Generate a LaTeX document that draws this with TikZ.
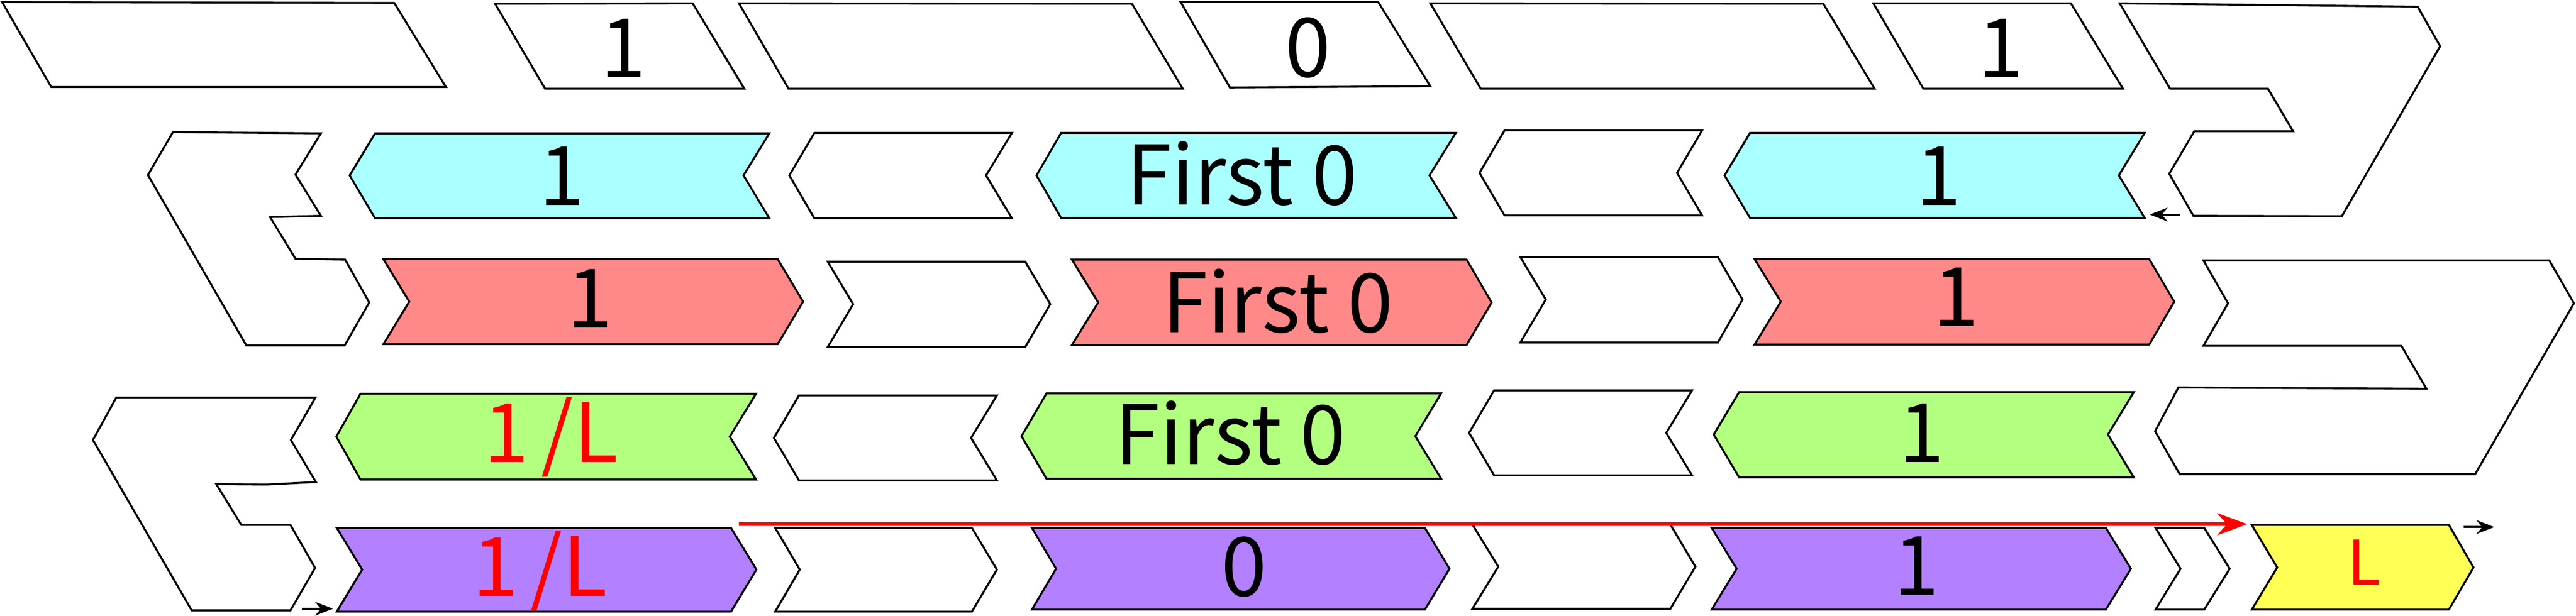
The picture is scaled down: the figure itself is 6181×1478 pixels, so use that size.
\documentclass[tikz,border=0pt]{standalone}
\usepackage{fontspec}
\setmainfont{Noto Sans CJK JP}
\usetikzlibrary{arrows.meta}
\definecolor{cyanc}{HTML}{AAFFFF}
\definecolor{redc}{HTML}{FF8888}
\definecolor{greenc}{HTML}{B3FF80}
\definecolor{purplec}{HTML}{B380FF}
\definecolor{yellowc}{HTML}{FFFF55}
\definecolor{textred}{HTML}{FF0000}
\begin{document}
\begin{tikzpicture}[x=0.01cm,y=-0.01cm,
  shp/.style={draw=black,line width=1.35pt,line join=miter},
  whitebox/.style={shp,fill=white},
  cyanbox/.style={shp,fill=cyanc},
  redbox/.style={shp,fill=redc},
  greenbox/.style={shp,fill=greenc},
  purplebox/.style={shp,fill=purplec},
  yellowbox/.style={shp,fill=yellowc},
  lbl/.style={inner sep=0pt,anchor=base,font=\fontsize{56}{60}\selectfont},
  redlbl/.style={lbl,text=textred},
  smalllbl/.style={inner sep=0pt,anchor=base,text=textred,font=\fontsize{42}{45}\selectfont},
  smallarrow/.style={-{Stealth[length=0.43cm,width=0.33cm]},line width=1.4pt,draw=black},
  bigarrow/.style={-{Stealth[length=0.72cm,width=0.53cm]},line width=2.55pt,draw=textred}]
\useasboundingbox (0,0) rectangle (6181,1478);
\fill[white] (0,0) rectangle (6181,1478);

% ---- row 1 : tape cells (parallelograms) ----
\draw[whitebox] (5,5) -- (946,7) -- (1070,209) -- (123,209) -- cycle;
\draw[whitebox] (1188,9) -- (1662,8) -- (1786,213) -- (1308,213) -- cycle;
\draw[whitebox] (1773,8) -- (2716,9) -- (2838,213) -- (1892,213) -- cycle;
\draw[whitebox] (2833,5) -- (3307,5) -- (3432,207) -- (2951,210) -- cycle;
\draw[whitebox] (3432,8) -- (4375,9) -- (4498,213) -- (3553,213) -- cycle;
\draw[whitebox] (4495,8) -- (4969,8) -- (5094,213) -- (4615,213) -- cycle;
\draw[whitebox] (5086,8) -- (5801,16) -- (5855,111) -- (5619,519) -- (5263,518) -- (5205,417) -- (5265,315) -- (5502,315) -- (5442,213) -- (5207,213) -- cycle;

% ---- row 2 : cyan, pointing left ----
\draw[whitebox] (415,317) -- (770,320) -- (709,419) -- (770,518) -- (648,521) -- (709,621) -- (828,623) -- (886,726) -- (827,829) -- (591,829) -- (355,420) -- cycle;
\draw[cyanbox] (900,320) -- (1846,320) -- (1784,421) -- (1846,524) -- (900,524) -- (839,421) -- cycle;
\draw[whitebox] (1954,319) -- (2428,319) -- (2366,421) -- (2428,524) -- (1954,524) -- (1894,421) -- cycle;
\draw[cyanbox] (2546,319) -- (3493,319) -- (3430,421) -- (3493,523) -- (2546,523) -- (2487,421) -- cycle;
\draw[whitebox] (3610,313) -- (4084,313) -- (4024,415) -- (4084,517) -- (3610,517) -- (3550,415) -- cycle;
\draw[cyanbox] (4199,319) -- (5146,319) -- (5084,421) -- (5146,523) -- (4199,523) -- (4138,421) -- cycle;

% ---- row 3 : red, pointing right ----
\draw[redbox] (920,622) -- (1866,622) -- (1927,724) -- (1866,826) -- (920,826) -- (982,724) -- cycle;
\draw[whitebox] (1986,628) -- (2460,628) -- (2520,730) -- (2460,833) -- (1986,833) -- (2047,730) -- cycle;
\draw[redbox] (2572,623) -- (3519,623) -- (3579,726) -- (3519,828) -- (2572,828) -- (2635,726) -- cycle;
\draw[whitebox] (3648,617) -- (4122,617) -- (4181,719) -- (4122,822) -- (3648,822) -- (3709,719) -- cycle;
\draw[redbox] (4210,622) -- (5157,622) -- (5217,724) -- (5157,827) -- (4210,827) -- (4273,724) -- cycle;
\draw[whitebox] (5287,625) -- (6117,625) -- (6176,728) -- (5939,1138) -- (5230,1138) -- (5171,1035) -- (5227,930) -- (5822,933) -- (5762,830) -- (5287,830) -- (5346,728) -- cycle;

% ---- row 4 : green, pointing left ----
\draw[whitebox] (279,954) -- (757,954) -- (698,1056) -- (758,1157) -- (639,1163) -- (519,1162) -- (579,1260) -- (697,1260) -- (756,1363) -- (697,1465) -- (460,1465) -- (223,1056) -- cycle;
\draw[greenbox] (865,945) -- (1814,945) -- (1751,1048) -- (1814,1151) -- (865,1151) -- (807,1048) -- cycle;
\draw[whitebox] (1917,949) -- (2392,949) -- (2330,1051) -- (2392,1153) -- (1917,1153) -- (1857,1051) -- cycle;
\draw[greenbox] (2511,944) -- (3458,944) -- (3396,1047) -- (3458,1149) -- (2511,1149) -- (2451,1047) -- cycle;
\draw[whitebox] (3585,937) -- (4060,937) -- (3998,1039) -- (4060,1141) -- (3585,1141) -- (3525,1039) -- cycle;
\draw[greenbox] (4173,941) -- (5120,941) -- (5058,1043) -- (5120,1146) -- (4173,1146) -- (4112,1043) -- cycle;

% ---- row 5 : purple, pointing right ----
\draw[purplebox] (808,1267) -- (1754,1267) -- (1815,1367) -- (1754,1468) -- (808,1468) -- (869,1367) -- cycle;
\draw[whitebox] (1860,1267) -- (2332,1267) -- (2392,1367) -- (2332,1468) -- (1860,1468) -- (1919,1367) -- cycle;
\draw[purplebox] (2476,1267) -- (3419,1267) -- (3478,1365) -- (3419,1463) -- (2476,1463) -- (2534,1365) -- cycle;
\draw[whitebox] (3533,1259) -- (4008,1259) -- (4068,1360) -- (4008,1461) -- (3533,1461) -- (3595,1360) -- cycle;
\draw[purplebox] (4107,1267) -- (5053,1267) -- (5113,1365) -- (5053,1463) -- (4107,1463) -- (4167,1365) -- cycle;
\draw[whitebox] (5172,1267) -- (5289,1267) -- (5350,1365) -- (5289,1463) -- (5172,1463) -- (5232,1365) -- cycle;
\draw[yellowbox] (5403,1260) -- (5876,1260) -- (5935,1362) -- (5876,1463) -- (5403,1463) -- (5464,1362) -- cycle;

% ---- labels ----
\node[lbl] (t11) at (1495,186) {1};
\node[lbl] (t12) at (3138,185) {0};
\node[lbl] (t13) at (4801,186) {1};
\node[lbl] (t21) at (1348,492) {1};
\node[lbl] (t22) at (2980,491) {First 0};
\node[lbl] (t23) at (4651,492) {1};
\node[lbl] (t31) at (1415,787) {1};
\node[lbl] (t32) at (3066,798) {First 0};
\node[lbl] (t33) at (4694,783) {1};
\node[redlbl] (t41) at (1322,1109) {1\hspace{0.15em}/L};
\node[lbl] (t42) at (2952,1115) {First 0};
\node[lbl] (t43) at (4610,1109) {1};
\node[redlbl] (t51) at (1296,1431) {1\hspace{0.15em}/L};
\node[lbl] (t52) at (2985,1431) {0};
\node[lbl] (t53) at (4598,1429) {1};
\node[smalllbl] (t54) at (5673,1404) {L};

% ---- arrows ----
\coordinate (a1s) at (724,1461);
\coordinate (a1e) at (799,1461);
\coordinate (a2s) at (5231,515);
\coordinate (a2e) at (5158,515);
\coordinate (a3s) at (5912,1265);
\coordinate (a3e) at (5985,1265);
\coordinate (rs) at (1773,1258);
\coordinate (re) at (5392,1258);
\draw[smallarrow] (a1s) -- (a1e);
\draw[smallarrow] (a2s) -- (a2e);
\draw[smallarrow] (a3s) -- (a3e);
\draw[bigarrow] (rs) -- (re);
\end{tikzpicture}
\end{document}
